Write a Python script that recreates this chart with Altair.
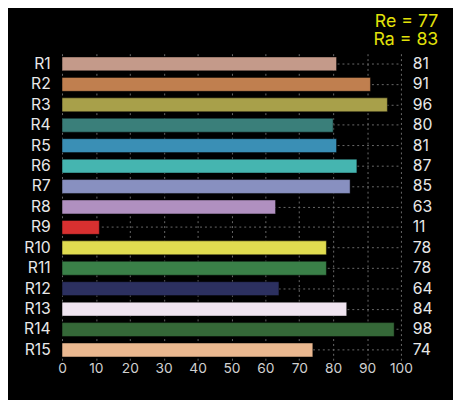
import altair as alt
import pandas as pd

labels = [f"R{i}" for i in range(1, 16)]
values = [81, 91, 96, 80, 81, 87, 85, 63, 11, 78, 78, 64, 84, 98, 74]
colors = ["#c49a8a", "#c07f4f", "#a8a04a", "#3a7f7a", "#3a8fb5",
          "#45b5b0", "#8890c0", "#b090c0", "#d83030", "#e0dc50",
          "#3a8048", "#2c3060", "#f0e4f0", "#356838", "#eab890"]
title_lines = ["Re = 77", "Ra = 83"]
x_ticks = [0, 10, 20, 30, 40, 50, 60, 70, 80, 90, 100]

df = pd.DataFrame({"label": labels, "value": values, "color": colors})

FONT = "Inter"
grid_color = "#6a6a6a"

y_scale = alt.Scale(paddingInner=0.32, paddingOuter=0.16)
y_axis = alt.Axis(title=None, labelColor="#e8e8e8", labelFontSize=16, labelFont=FONT,
                  labelPadding=12, ticks=False, domain=False, grid=True,
                  gridColor=grid_color, gridDash=[2, 3], gridWidth=1)
x_scale = alt.Scale(domain=[0, 100], nice=False)
x_axis = alt.Axis(title=None, values=x_ticks, labelColor="#d0d0d0",
                  labelFontSize=14, labelFont=FONT, labelPadding=2,
                  labelFlush=False, labelOverlap=False,
                  ticks=False, domain=False, grid=True,
                  gridColor=grid_color, gridDash=[2, 3], gridWidth=1)

base = alt.Chart(df)
bars = base.mark_bar(stroke="black", strokeOpacity=0.45, strokeWidth=1).encode(
    y=alt.Y("label:N", sort=labels, scale=y_scale, axis=y_axis),
    x=alt.X("value:Q", scale=x_scale, axis=x_axis),
    color=alt.Color("color:N", scale=None),
)
texts = base.mark_text(align="left", baseline="middle", dx=12, fontSize=16,
                       font=FONT, color="#e8e8e8").encode(
    y=alt.Y("label:N", sort=labels, scale=y_scale, axis=y_axis),
    x=alt.XDatum(100, type="quantitative", scale=x_scale, axis=x_axis),
    text="value:Q",
)

chart = alt.layer(bars, texts).properties(
    width=345, height=312,
    padding={"left": 55, "top": 43, "right": 53, "bottom": 37},
    autosize=alt.AutoSizeParams(type="none"),
    background="black",
    title=alt.TitleParams(text=title_lines, color="#e2e20a", fontSize=18, font=FONT,
                          fontWeight="normal", anchor="end", align="right",
                          frame="group", dx=38, offset=5, lineHeight=18),
).configure_view(stroke=None)

chart.save("out.html", embed_options={"renderer": "svg", "actions": False})
